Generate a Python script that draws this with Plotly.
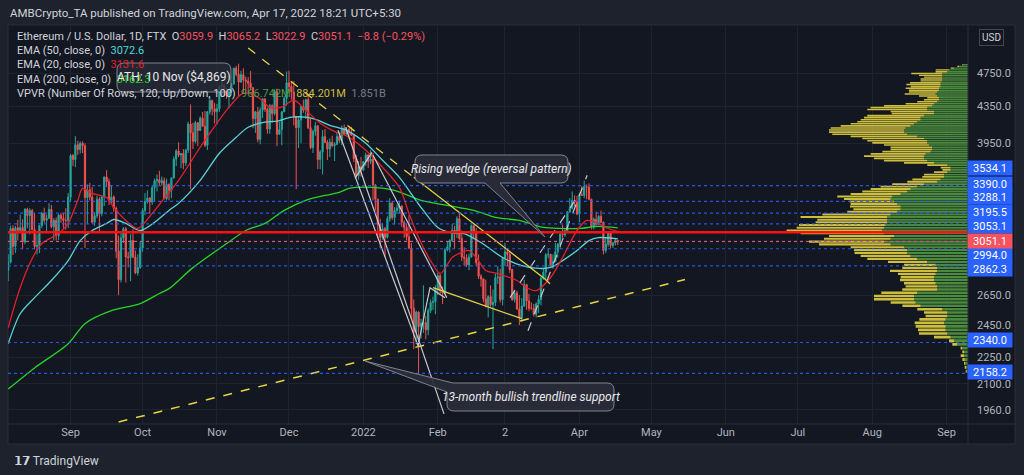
import math
import pandas as pd
import plotly.graph_objects as go

# ---------------- DATA ----------------
dates = pd.date_range("2021-08-06", "2022-04-17", freq="D")

opens = [
    # Aug
    2827,2890,3158,3012,3163,3142,3165,3049,3322,3267,3310,3148,3012,3018,3182,3286,3226,3243,3320,3173,3226,3100,3270,3243,3225,3224,
    # Sep
    3430,3825,3785,3935,3885,3950,3925,3425,3495,3430,3210,3265,3410,3285,3430,3615,3570,3400,3430,3330,2975,2760,3080,3155,2930,2925,3060,2930,2810,2850,
    # Oct
    3000,3310,3390,3420,3385,3515,3580,3590,3560,3580,3415,3545,3490,3605,3790,3870,3830,3845,3750,3880,4155,4060,3970,4170,4085,4220,4130,3930,4290,4420,4325,
    # Nov
    4290,4325,4590,4605,4530,4475,4520,4615,4810,4735,4640,4730,4665,4650,4625,4570,4215,4290,3990,4310,4440,4320,4100,4360,4270,4525,4045,4095,4290,4445,
    # Dec
    4630,4585,4520,4240,4115,4200,4350,4310,4430,4115,3905,4075,4135,3785,3860,4020,3960,3890,3960,3925,3940,4020,3980,4110,4045,4095,4060,4035,3795,3630,3715,
    # Jan
    3680,3765,3830,3765,3790,3540,3410,3195,3085,3155,3085,3240,3375,3250,3310,3330,3350,3210,3165,3090,3000,2560,2405,2535,2440,2460,2465,2420,2545,2600,2605,
    # Feb
    2690,2790,2680,2665,2985,3010,3060,3145,3115,3240,3075,2930,2920,2870,2930,3180,3125,2885,2785,2765,2625,2575,2640,2585,2600,2775,2780,2620,
    # Mar
    2920,2970,2950,2835,2620,2665,2555,2495,2575,2725,2610,2560,2560,2520,2590,2620,2770,2815,2945,2950,2860,2895,2970,3030,3110,3105,3140,3300,3330,3400,3385,
    # Apr
    3280,3450,3445,3525,3520,3410,3170,3235,3190,3260,3210,2980,3030,3120,3020,3040,3059.9,
]
highs = [
    2950,3180,3185,3180,3230,3275,3235,3330,3335,3330,3325,3290,3110,3180,3300,3335,3275,3375,3360,3245,3250,3280,3290,3290,3330,3465,
    3840,3840,4025,3975,3970,3970,3950,3545,3560,3520,3295,3440,3430,3440,3620,3680,3600,3540,3445,3345,3100,3120,3170,3170,2970,3110,3150,2980,2950,3050,
    3330,3465,3490,3430,3540,3600,3640,3675,3620,3610,3600,3555,3610,3815,3890,3960,3850,3890,3895,4180,4375,4170,4190,4175,4240,4290,4300,4300,4460,4430,4390,
    4380,4600,4665,4610,4570,4530,4630,4820,4840,4869,4780,4810,4705,4700,4775,4580,4300,4345,4340,4440,4440,4340,4380,4375,4550,4560,4180,4300,4470,4770,
    4780,4640,4650,4240,4230,4350,4430,4440,4475,4220,4095,4180,4145,3880,4090,4100,3985,4000,4030,3960,4060,4045,4140,4150,4120,4110,4125,4040,3830,3770,3810,
    3770,3855,3840,3880,3850,3550,3415,3240,3200,3170,3260,3420,3390,3340,3365,3395,3355,3225,3195,3270,3040,2620,2545,2540,2490,2720,2510,2560,2620,2640,2720,
    2810,2800,2710,3000,3050,3070,3195,3180,3260,3280,3140,3005,2950,2955,3190,3190,3160,2950,2800,2770,2760,2650,2720,2690,2805,2860,2840,2930,
    3040,3000,2980,2840,2680,2680,2650,2630,2760,2730,2660,2600,2590,2600,2650,2780,2840,2960,3000,2955,2950,3040,3040,3125,3190,3150,3300,3420,3480,3445,3440,
    3470,3530,3580,3545,3555,3415,3250,3300,3270,3310,3215,3080,3130,3130,3050,3080,3065.2,
]
lows = [
    2750,2880,2945,2960,3060,3130,2990,3030,3160,3110,3140,2990,2950,2960,3160,3205,3125,3240,3160,3060,3060,3065,3205,3160,3150,3160,
    3385,3720,3710,3830,3845,3850,3000,3200,3400,3200,3180,3245,3120,3260,3350,3520,3360,3370,3300,2920,2650,2740,3040,2740,2850,2750,2920,2800,2790,2840,
    2970,3270,3370,3280,3360,3385,3480,3540,3535,3410,3400,3400,3420,3600,3720,3810,3700,3690,3720,3850,3500,3890,3950,3920,4080,4140,3910,3880,4260,4250,4160,
    4150,4290,4460,4470,4440,4330,4510,4610,4710,4470,4630,4500,4530,4515,4540,4110,4060,3960,3940,4220,4290,4050,4050,4170,4250,3920,4040,3930,4290,4360,
    4510,4430,4140,3500,3900,3950,4280,4210,4100,3890,3850,4030,3690,3690,3640,3950,3780,3810,3910,3770,3930,3955,3930,4040,4035,4000,4030,3760,3610,3590,3620,
    3680,3720,3700,3740,3400,3310,3080,3000,3065,2930,3075,3215,3230,3190,3280,3285,3170,3080,3060,2990,2490,2300,2330,2159,2365,2400,2360,2385,2530,2550,2520,
    2650,2660,2590,2660,2975,2965,3050,2995,3080,3060,2900,2865,2855,2830,2925,3070,2860,2765,2710,2600,2565,2500,2570,2300,2575,2730,2600,2580,
    2860,2860,2810,2610,2600,2550,2450,2470,2570,2550,2540,2550,2505,2500,2530,2580,2760,2760,2920,2850,2840,2890,2925,2990,3080,3090,3120,3290,3320,3350,3270,
    3210,3440,3420,3410,3400,3150,3150,3180,3185,3200,2950,2960,3010,3000,3000,3020,3022.9,
]
closes = [
    2890,3158,3012,3163,3142,3165,3049,3322,3267,3310,3148,3012,3018,3182,3286,3226,3243,3320,3173,3226,3100,3270,3243,3225,3224,3430,
    3825,3785,3935,3885,3950,3925,3425,3495,3430,3210,3265,3410,3285,3430,3615,3570,3400,3430,3330,2975,2760,3080,3155,2930,2925,3060,2930,2810,2850,3000,
    3310,3390,3420,3385,3515,3580,3590,3560,3580,3415,3545,3490,3605,3790,3870,3830,3845,3750,3880,4155,4060,3970,4170,4085,4220,4130,3930,4290,4420,4325,4290,
    4325,4590,4605,4530,4475,4520,4615,4810,4735,4640,4730,4665,4650,4625,4570,4215,4290,3990,4310,4440,4320,4100,4360,4270,4525,4045,4095,4290,4445,4630,
    4585,4520,4240,4115,4200,4350,4310,4430,4115,3905,4075,4135,3785,3860,4020,3960,3890,3960,3925,3940,4020,3980,4110,4045,4095,4060,4035,3795,3630,3715,3680,
    3765,3830,3765,3790,3540,3410,3195,3085,3155,3085,3240,3375,3250,3310,3330,3350,3210,3165,3090,3000,2560,2405,2535,2440,2460,2465,2420,2545,2600,2605,2690,
    2790,2680,2665,2985,3010,3060,3145,3115,3240,3075,2930,2920,2870,2930,3180,3125,2885,2785,2765,2625,2575,2640,2585,2600,2775,2780,2620,2920,
    2970,2950,2835,2620,2665,2555,2495,2575,2725,2610,2560,2560,2520,2590,2620,2770,2815,2945,2950,2860,2895,2970,3030,3110,3105,3140,3300,3330,3400,3385,3280,
    3450,3445,3525,3520,3410,3170,3235,3190,3260,3210,2980,3030,3120,3020,3040,3060,3051.1,
]

ema20_dates = ["2021-08-06","2021-08-11","2021-08-16","2021-08-20","2021-08-27","2021-08-31","2021-09-04","2021-09-06",
               "2021-09-10","2021-09-16","2021-09-19","2021-09-24","2021-09-29","2021-10-05","2021-10-08","2021-10-16",
               "2021-10-25","2021-11-01","2021-11-06","2021-11-12","2021-11-18","2021-11-23","2021-11-28","2021-12-03",
               "2021-12-08","2021-12-14","2021-12-19","2021-12-26","2022-01-02","2022-01-09","2022-01-16","2022-01-20",
               "2022-01-24","2022-01-29","2022-02-02","2022-02-07","2022-02-10","2022-02-14","2022-02-17","2022-02-21",
               "2022-02-26","2022-03-06","2022-03-10","2022-03-14","2022-03-20","2022-03-25","2022-03-31","2022-04-04",
               "2022-04-08","2022-04-12","2022-04-17"]
ema20_vals = [2433,2703,2918,3035,3116,3200,3400,3508,3463,3426,3337,3225,3158,3285,3363,3583,3909,4164,4343,4506,
              4459,4343,4343,4424,4308,4164,4086,4013,3878,3708,3518,3285,3083,2902,2805,2926,2958,2980,2926,2827,
              2805,2754,2703,2682,2776,2926,3141,3225,3208,3166,3131.6]

ema50_dates = ["2021-08-06","2021-08-11","2021-08-17","2021-08-24","2021-08-31","2021-09-05","2021-09-10","2021-09-16",
               "2021-09-19","2021-09-24","2021-09-30","2021-10-07","2021-10-12","2021-10-16","2021-10-25","2021-11-02",
               "2021-11-09","2021-11-14","2021-11-21","2021-11-26","2021-12-02","2021-12-08","2021-12-13","2021-12-18",
               "2021-12-25","2022-01-02","2022-01-09","2022-01-16","2022-01-22","2022-01-26","2022-02-01","2022-02-06",
               "2022-02-12","2022-02-19","2022-02-23","2022-02-28","2022-03-08","2022-03-15","2022-03-20","2022-03-25",
               "2022-03-31","2022-04-05","2022-04-09","2022-04-17"]
ema50_vals = [2333,2524,2633,2754,2902,3059,3141,3200,3233,3200,3141,3225,3311,3373,3583,3848,4013,4120,4175,4187,
              4230,4230,4197,4140,4086,3950,3777,3612,3426,3311,3166,3125,3116,3043,2990,2926,2864,2843,2850,2902,
              2980,3059,3083,3072.6]

ema200_dates = ["2021-08-06","2021-08-17","2021-08-31","2021-09-07","2021-09-18","2021-09-30","2021-10-08","2021-10-12",
                "2021-10-22","2021-11-05","2021-11-13","2021-11-21","2021-11-29","2021-12-08","2021-12-16","2021-12-22",
                "2021-12-26","2022-01-05","2022-01-14","2022-01-25","2022-02-05","2022-02-16","2022-02-25","2022-03-07",
                "2022-03-17","2022-03-24","2022-04-01","2022-04-09","2022-04-17"]
ema200_vals = [2071,2189,2333,2459,2544,2592,2662,2696,2849,3035,3141,3200,3311,3400,3444,3472,3508,3518,3490,3400,
               3355,3311,3251,3225,3166,3158,3158,3175,3162.3]

blue_levels = [3534.1, 3390.0, 3288.1, 3195.5, 3053.1, 2994.0, 2862.3, 2340.0, 2158.2]
red_level = 3127.0
last_price = 3051.1

# Volume profile (120 rows between visible low and high), up / down volume per row
vp_low, vp_high = 2159.0, 4869.0
vp_up = [1.3,2.0,2.7,3.3,4.0,4.0,5.7,10.7,14.0,17.3,20.7,22.3,22.3,24.0,22.3,20.7,20.7,25.7,47.3,52.3,
         54.0,54.0,50.7,30.7,30.7,32.3,34.0,34.0,32.3,30.7,30.7,32.3,40.7,50.7,57.3,60.7,60.7,64.0,77.3,84.0,
         77.3,74.0,84.0,85.7,84.0,82.3,80.7,80.7,80.7,77.3,70.7,67.3,67.3,70.7,74.0,77.3,75.7,67.3,60.7,57.3,
         50.7,44.0,30.7,27.3,24.0,24.0,20.7,17.3,17.3,20.7,34.0,40.7,44.0,44.0,42.3,37.3,35.7,35.7,39.0,40.7,
         40.7,44.0,50.7,60.7,64.0,64.0,62.3,57.3,54.0,50.7,47.3,47.3,44.0,34.0,34.0,40.7,40.7,35.7,34.0,30.7,
         29.0,29.0,30.7,32.3,30.7,29.0,29.0,27.3,27.3,27.3,25.7,25.7,25.7,25.7,25.7,20.7,19.0,14.0,9.0,4.7]
vp_down = [1.0,1.3,1.3,2.3,3.3,1.7,1.7,5.0,5.0,16.7,28.3,27.7,30.0,29.3,26.3,21.7,23.3,25.0,18.3,25.0,
           40.0,40.0,36.0,35.0,31.7,31.7,34.0,33.3,37.7,47.3,35.0,31.7,39.3,50.0,50.0,52.7,53.3,53.3,71.7,75.0,
           66.7,65.0,83.3,95.7,87.3,86.7,71.7,70.0,86.7,68.3,50.0,47.3,50.7,46.7,44.3,46.7,55.0,50.0,45.0,40.0,
           36.7,31.7,30.0,28.3,21.7,20.0,13.3,8.3,10.0,20.0,30.0,43.3,50.0,60.0,55.0,48.3,41.7,41.7,45.0,55.0,
           60.0,61.7,66.7,75.0,75.0,75.0,75.0,70.0,63.3,60.0,60.0,56.7,56.7,42.3,43.3,60.0,56.7,48.3,28.3,20.0,
           15.0,11.7,18.3,31.0,28.3,30.0,33.3,30.0,34.3,30.7,21.7,21.7,18.3,23.3,31.0,11.7,13.3,3.3,1.7,1.0]

# Drawings (date, price)
desc_trend_dash = (["2021-11-14", "2022-01-22"], [5073, 3612])
desc_trend_solid = (["2022-01-22", "2022-03-17"], [3612, 2775])
desc_trend_tail = (["2022-03-17", "2022-03-22"], [2775, 2696])
wedge_low_solid = (["2022-01-30", "2022-03-08"], [2703, 2491])
support_dash = (["2021-09-21", "2022-05-15"], [1899, 2761])
white_lines = [
    (["2021-12-24 14:00", "2022-02-03 14:00"], [4120, 1940]),
    (["2021-12-21 10:00", "2022-01-23 18:00", "2022-01-28 18:00", "2022-02-04"], [4088, 2320, 2703, 2633]),
    (["2022-01-05", "2022-02-04 18:00"], [3827, 2633]),
    (["2021-12-28 12:00", "2022-01-04 14:00"], [3602, 3857]),
]
white_dashed = [
    (["2022-03-10 14:00", "2022-04-04 05:00"], [2414, 3631]),
    (["2022-03-03 02:00", "2022-03-31"], [2633, 3426]),
]

month_ticks = ["2021-09-01","2021-10-01","2021-11-01","2021-12-01","2022-01-01","2022-02-01","2022-03-01",
               "2022-04-01","2022-05-01","2022-06-01","2022-07-01","2022-08-01","2022-09-01"]
month_text = ["Sep","Oct","Nov","Dec","2022","Feb","2","Apr","May","Jun","Jul","Aug","Sep"]
price_ticks = [4750, 4350, 3950, 2650, 2450, 2250, 2100, 1960]

# ---------------- LAYOUT CONSTANTS ----------------
W, H = 1024, 475
PL, PR, PT, PB = 8, 968, 25, 424
BG = "#131722"
OUTER = "#1e222d"
TXT = "#d1d4dc"
AX = "#b2b5be"
FONT = "Roboto"

def P(px, py):
    return (px - PL) / (PR - PL), 1 - (py - PT) / (PB - PT)

def pstr(px, py):
    x, y = P(px, py)
    return f"{x:.5f},{y:.5f}"

fig = go.Figure()

# candles
fig.add_trace(go.Candlestick(
    x=dates, open=opens, high=highs, low=lows, close=closes,
    increasing=dict(line=dict(color="#26a69a", width=1), fillcolor="#26a69a"),
    decreasing=dict(line=dict(color="#ef5350", width=1), fillcolor="#ef5350"),
    whiskerwidth=0, showlegend=False, hoverinfo="skip"))

# EMAs
fig.add_trace(go.Scatter(x=ema200_dates, y=ema200_vals, mode="lines",
                         line=dict(color="#27d427", width=1.3, shape="spline", smoothing=0.8), showlegend=False))
fig.add_trace(go.Scatter(x=ema50_dates, y=ema50_vals, mode="lines",
                         line=dict(color="#5ad4d4", width=1.3, shape="spline", smoothing=0.8), showlegend=False))
fig.add_trace(go.Scatter(x=ema20_dates, y=ema20_vals, mode="lines",
                         line=dict(color="#e8202a", width=1.3, shape="spline", smoothing=0.8), showlegend=False))

# drawings
def seg(d, color, dash="solid", width=1.3):
    fig.add_trace(go.Scatter(x=d[0], y=d[1], mode="lines",
                             line=dict(color=color, width=width, dash=dash), showlegend=False))

for wl in white_lines:
    seg(wl, "#c8cad0", "solid", 1.2)
for wd in white_dashed:
    seg(wd, "#c8cad0", "dash", 1.2)
seg(desc_trend_dash, "#e6d640", "dash", 1.3)
seg(desc_trend_solid, "#e6d640", "solid", 1.3)
seg(desc_trend_tail, "#e6d640", "dash", 1.3)
seg(wedge_low_solid, "#e6d640", "solid", 1.3)
seg(support_dash, "#e6d640", "dash", 1.5)

# volume profile on an overlaying x axis (anchored at right edge)
N = len(vp_up)
step = (vp_high - vp_low) / N
gap = step * 0.12
totals = [u + d for u, d in zip(vp_up, vp_down)]
R = max(totals) / 0.189

def rows_poly(a_list, b_list):
    xs, ys = [], []
    for i in range(N):
        a, b = a_list[i], b_list[i]
        if b - a <= 0:
            continue
        lo = vp_low + i * step + gap
        hi = vp_low + (i + 1) * step - gap
        xs += [a, b, b, a, a, None]
        ys += [lo, lo, hi, hi, lo, None]
    return xs, ys

gx, gy = rows_poly([0] * N, vp_up)
yx, yy = rows_poly(vp_up, totals)
fig.add_trace(go.Scatter(x=gx, y=gy, xaxis="x2", yaxis="y", mode="lines", fill="toself",
                         fillcolor="#4a8a3c", line=dict(width=0), showlegend=False, hoverinfo="skip"))
fig.add_trace(go.Scatter(x=yx, y=yy, xaxis="x2", yaxis="y", mode="lines", fill="toself",
                         fillcolor="#cdbf3c", line=dict(width=0), showlegend=False, hoverinfo="skip"))

# horizontal levels (on x2 so they are drawn above the profile)
for lv in blue_levels:
    fig.add_trace(go.Scatter(x=[R, 0], y=[lv, lv], xaxis="x2", mode="lines",
                             line=dict(color="rgba(41,98,255,0.85)", width=1.2, dash="dot"), showlegend=False))
fig.add_trace(go.Scatter(x=[R, 0], y=[last_price, last_price], xaxis="x2", mode="lines",
                         line=dict(color="#f7525f", width=1, dash="dot"), showlegend=False))
fig.add_trace(go.Scatter(x=[R, 0], y=[red_level, red_level], xaxis="x2", mode="lines",
                         line=dict(color="#ff1010", width=2.6), showlegend=False))

shapes = []
# outer chart panel
x0, y1 = P(8, 25)
x1, y0 = P(1015, 444)
shapes.append(dict(type="rect", xref="paper", yref="paper", x0=x0, y0=y0, x1=x1, y1=y1,
                   fillcolor=BG, line=dict(color="#2a2e39", width=1), layer="below"))
ax0, ay0 = P(968, 25)
ax1, ay1 = P(968, 444)
shapes.append(dict(type="line", xref="paper", yref="paper", x0=ax0, y0=ay0, x1=ax1, y1=ay1,
                   line=dict(color="#2a2e39", width=1)))
bx0, by0 = P(8, 424)
bx1, by1 = P(1015, 424)
shapes.append(dict(type="line", xref="paper", yref="paper", x0=bx0, y0=by0, x1=bx1, y1=by1,
                   line=dict(color="#2a2e39", width=1)))

def rbox_path(x0, y0, x1, y1, r):
    return (f"M {pstr(x0 + r, y0)} L {pstr(x1 - r, y0)} Q {pstr(x1, y0)} {pstr(x1, y0 + r)} "
            f"L {pstr(x1, y1 - r)} Q {pstr(x1, y1)} {pstr(x1 - r, y1)} L {pstr(x0 + r, y1)} "
            f"Q {pstr(x0, y1)} {pstr(x0, y1 - r)} L {pstr(x0, y0 + r)} Q {pstr(x0, y0)} {pstr(x0 + r, y0)} Z")

CALL_FILL = "rgba(42,46,57,0.92)"
CALL_LINE = "#80838d"
# ATH box
shapes.append(dict(type="path", xref="paper", yref="paper", path=rbox_path(117, 63, 231, 92, 7),
                   fillcolor="rgba(40,44,56,0.78)", line=dict(color=CALL_LINE, width=1)))
# Rising wedge callout (tail at bottom)
r = 7
bx0_, by0_, bx1_, by1_ = 415, 155, 568, 183
path = (f"M {pstr(bx0_ + r, by0_)} L {pstr(bx1_ - r, by0_)} Q {pstr(bx1_, by0_)} {pstr(bx1_, by0_ + r)} "
        f"L {pstr(bx1_, by1_ - r)} Q {pstr(bx1_, by1_)} {pstr(bx1_ - r, by1_)} "
        f"L {pstr(500, by1_)} L {pstr(545, 237)} L {pstr(485, by1_)} "
        f"L {pstr(bx0_ + r, by1_)} Q {pstr(bx0_, by1_)} {pstr(bx0_, by1_ - r)} "
        f"L {pstr(bx0_, by0_ + r)} Q {pstr(bx0_, by0_)} {pstr(bx0_ + r, by0_)} Z")
shapes.append(dict(type="path", xref="paper", yref="paper", path=path,
                   fillcolor=CALL_FILL, line=dict(color=CALL_LINE, width=1)))
# 13-month callout (tail at top-left)
cx0, cy0, cx1, cy1 = 447, 383, 614, 411
path = (f"M {pstr(453, cy0)} L {pstr(cx1 - r, cy0)} Q {pstr(cx1, cy0)} {pstr(cx1, cy0 + r)} "
        f"L {pstr(cx1, cy1 - r)} Q {pstr(cx1, cy1)} {pstr(cx1 - r, cy1)} L {pstr(cx0 + r, cy1)} "
        f"Q {pstr(cx0, cy1)} {pstr(cx0, cy1 - r)} L {pstr(cx0, 392)} L {pstr(365, 361)} Z")
shapes.append(dict(type="path", xref="paper", yref="paper", path=path,
                   fillcolor=CALL_FILL, line=dict(color=CALL_LINE, width=1)))

annotations = []

def ann(px, py, text, size=11, color=TXT, xanchor="left", **kw):
    x, y = P(px, py)
    d = dict(xref="paper", yref="paper", x=x, y=y, text=text, showarrow=False, xanchor=xanchor,
             yanchor="middle", font=dict(family=FONT, size=size, color=color))
    d.update(kw)
    annotations.append(d)

ann(8, 13, "AMBCrypto_TA published on TradingView.com, Apr 17, 2022 18:21 UTC+5:30", size=11.5, color=TXT)

RED = "#f7525f"
def c(t, col):
    return f"<span style='color:{col}'>{t}</span>"

line1 = ("Ethereum / U.S. Dollar, 1D, FTX&nbsp;&nbsp;O" + c("3059.9", RED) + "&nbsp;&nbsp;H" + c("3065.2", RED) +
         "&nbsp;&nbsp;L" + c("3022.9", RED) + "&nbsp;&nbsp;C" + c("3051.1", RED) + "&nbsp;&nbsp;" + c("−8.8 (−0.29%)", RED))
ann(15, 36, line1, size=11)
ann(15, 50.5, "EMA (50, close, 0)&nbsp;&nbsp;" + c("3072.6", "#4fd8d8"), size=11)
ann(15, 64.5, "EMA (20, close, 0)&nbsp;&nbsp;" + c("3131.6", "#e8202a"), size=11)
ann(15, 79, "EMA (200, close, 0)&nbsp;&nbsp;" + c("3162.3", "#27d427"), size=11)
ann(15, 93.5, "VPVR (Number Of Rows, 120, Up/Down, 100)&nbsp;&nbsp;" + c("966.742M", "#4f9a45") +
    "&nbsp;&nbsp;" + c("884.201M", "#cdbf3c") + "&nbsp;&nbsp;" + c("1.851B", "#787b86"), size=11)

ann(174, 77.5, "ATH: 10 Nov ($4,869)", size=12, color="#e8e9ec", xanchor="center")
ann(491.5, 169, "<i>Rising wedge (reversal pattern)</i>", size=12, color="#e8e9ec", xanchor="center")
ann(530.5, 397, "<i>13-month bullish trendline support</i>", size=12, color="#e8e9ec", xanchor="center")

# price scale labels
label_py = [168, 184, 197.5, 212, 226, 255, 269, 340, 372]
for lv, py in zip(blue_levels, label_py):
    ann(989.5, py, f"{lv:.1f}", size=11, color="#ffffff", xanchor="center",
        bgcolor="#2962ff", width=42, height=12, borderpad=1)
ann(989.5, 240.5, f"{last_price:.1f}", size=11, color="#ffffff", xanchor="center",
    bgcolor="#f7525f", width=42, height=12, borderpad=1)
ann(991, 37, "USD", size=10, color=TXT, xanchor="center", bgcolor=BG, bordercolor="#434651",
    borderwidth=1, borderpad=2)

# footer logo
ann(12, 461, "<b>𝟭𝟳</b> TradingView", size=12, color="#d1d4dc")

fig.update_layout(
    width=W, height=H,
    margin=dict(l=PL, r=W - PR, t=PT, b=H - PB),
    paper_bgcolor=OUTER, plot_bgcolor=BG,
    font=dict(family=FONT, size=11, color=AX),
    showlegend=False,
    shapes=shapes, annotations=annotations,
    xaxis=dict(type="date", range=["2021-08-05 22:05", "2022-09-09 22:05"],
               rangeslider=dict(visible=False),
               tickvals=month_ticks, ticktext=month_text, ticks="",
               tickfont=dict(family=FONT, size=11, color=AX),
               showgrid=True, gridcolor="#1f2330", gridwidth=1, zeroline=False, showline=False,
               fixedrange=True),
    xaxis2=dict(overlaying="x", anchor="y", range=[R, 0], visible=False, showgrid=False, fixedrange=True),
    yaxis=dict(type="log", side="right", range=[math.log10(1889), math.log10(5390)],
               tickvals=price_ticks, ticktext=[f"{v:.1f}" for v in price_ticks], ticks="",
               ticklabelstandoff=8, tickfont=dict(family=FONT, size=11, color=AX),
               showgrid=True, gridcolor="#1f2330", gridwidth=1, zeroline=False, showline=False,
               fixedrange=True),
)

fig.write_html("out.html", config={"displayModeBar": False},
               post_script="document.body.style.margin='0px';document.body.style.background='#1e222d';")
